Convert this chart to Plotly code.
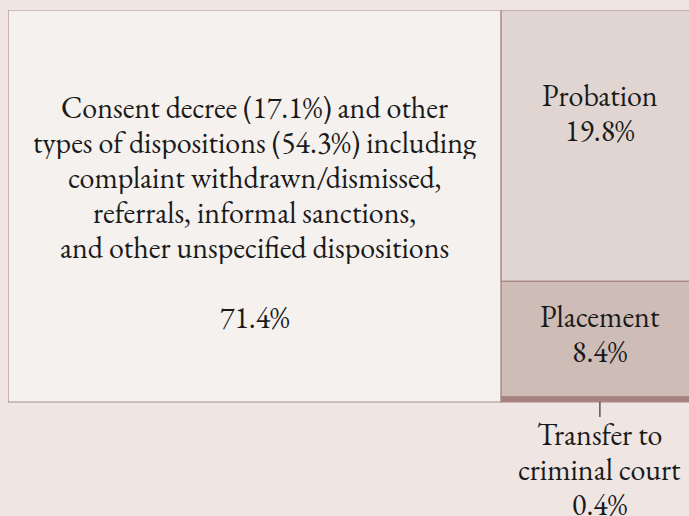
import plotly.graph_objects as go

# Data
categories = ["Other dispositions", "Probation", "Placement", "Transfer to criminal court"]
shares = [71.4, 19.8, 8.4, 0.4]
label_lines = [
    ["Consent decree (17.1%) and other",
     "types of dispositions (54.3%) including",
     "complaint withdrawn/dismissed,",
     "referrals, informal sanctions,",
     "and other unspecified dispositions",
     "",
     "71.4%"],
    ["Probation", "19.8%"],
    ["Placement", "8.4%"],
    ["Transfer to", "criminal court", "0.4%"],
]
fills = ["#F5F1EE", "#E0D5D1", "#CEBCB7", "#A6817E"]

BG = "#EFE6E4"
EDGE = "#A88A87"
FONT = "EB Garamond, Garamond, Liberation Serif, serif"
FS = 30
LINE = 35  # px between baselines
TC = "#1A1A1A"

W, H = 689, 516
M = dict(l=8, r=0, t=10, b=0)
XR = [0, 98.6]
YR = [-29.08, 100]
py_per_unit = (H - M["t"] - M["b"]) / (YR[1] - YR[0])


def d2py(y):
    return M["t"] + (YR[1] - y) * py_per_unit


def py2d(p):
    return YR[1] - (p - M["t"]) / py_per_unit


fig = go.Figure()

total = sum(shares)
big_w = shares[0] / total * 100
rest = total - shares[0]
rects = [(0, big_w, 0, 100)]
top = 100
for s in shares[1:]:
    h = s / rest * 100
    rects.append((big_w, 100, top - h, top))
    top -= h

shapes = []
for (x0, x1, y0, y1), c in zip(rects, fills):
    shapes.append(dict(type="rect", xref="x", yref="y", x0=x0, x1=x1, y0=y0, y1=y1,
                       fillcolor=c, line=dict(color=EDGE, width=1.2), layer="below"))

tx = (rects[3][0] + rects[3][1]) / 2
shapes.append(dict(type="line", xref="x", yref="y", x0=tx, x1=tx,
                   y0=rects[3][2], y1=py2d(d2py(rects[3][2]) + 15),
                   line=dict(color="#333333", width=1.2)))

fig.add_trace(go.Scatter(x=[0, 100], y=[0, 100], mode="markers", marker=dict(opacity=0),
                         hoverinfo="skip", showlegend=False))

annotations = []


def add_lines(xc, first_baseline_px, lines):
    for k, t in enumerate(lines):
        if not t:
            continue
        b = first_baseline_px + k * LINE
        centre = b - 0.30 * FS
        annotations.append(dict(x=xc, y=py2d(centre), xref="x", yref="y", text=t, showarrow=False,
                                font=dict(family=FONT, size=FS, color=TC), align="center",
                                yanchor="middle", xanchor="center", valign="middle",
                                height=LINE - 1, borderpad=0))


r = rects[0]
cx = (r[0] + r[1]) / 2
cpx = (d2py(r[2]) + d2py(r[3])) / 2
n = len(label_lines[0])
add_lines(cx, cpx + 15 - (n - 1) * LINE / 2, label_lines[0])

r = rects[1]
cx = (r[0] + r[1]) / 2
cpx = (d2py(r[2]) + d2py(r[3])) / 2
add_lines(cx, cpx - 24 - LINE / 2, label_lines[1])

r = rects[2]
cpx = (d2py(r[2]) + d2py(r[3])) / 2
add_lines(cx, cpx + 4 - LINE / 2, label_lines[2])

r = rects[3]
add_lines(cx, d2py(r[2]) + 41, label_lines[3])

fig.update_layout(
    width=W, height=H,
    margin=M,
    paper_bgcolor=BG, plot_bgcolor=BG,
    shapes=shapes, annotations=annotations,
    xaxis=dict(range=XR, visible=False, fixedrange=True),
    yaxis=dict(range=YR, visible=False, fixedrange=True),
    showlegend=False,
)

fig.write_html("out.html", config={"displayModeBar": False},
               post_script="document.body.style.margin='0';document.body.style.background='" + BG + "';")
